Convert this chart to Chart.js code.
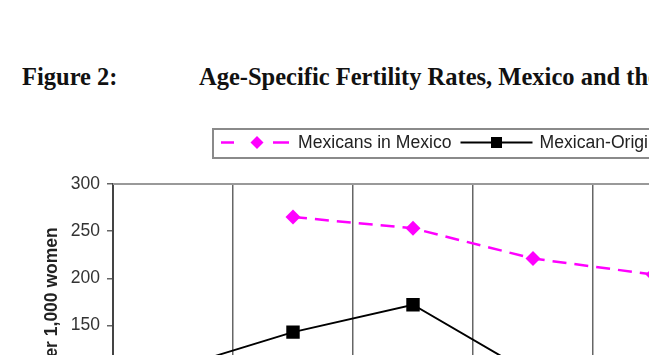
<!DOCTYPE html>
<html>
<head>
<meta charset="utf-8">
<script src="https://cdn.jsdelivr.net/npm/chart.js@4/dist/chart.umd.min.js"></script>
<style>
  html, body { margin:0; padding:0; background:#fff; width:649px; height:355px; overflow:hidden; }
  .t { position:absolute; font-family:"Liberation Serif","Times New Roman",serif; font-weight:bold; font-size:24.5px; line-height:24px; color:#111; white-space:nowrap; }
  #c { position:absolute; left:0; top:0; }
</style>
</head>
<body>
<div class="t" style="left:22px; top:65px;">Figure 2:</div>
<div class="t" style="left:199px; top:65px;">Age-Specific Fertility Rates, Mexico and the United States</div>
<canvas id="c" width="1000" height="527"></canvas>
<script>
const categories = ["15-19", "20-24", "25-29", "30-34", "35-39", "40-44", "45-49"];
const mexicoValues = [null, 265, 253, 221, 204, 140, 50];
const usOriginValues = [104, 143, 172, 98, 55, 18, 4];
const seriesNames = ["Mexicans in Mexico", "Mexican-Origin Women in the U.S."];
const yTitle = "Births per 1,000 women";
const yMin = 0, yMax = 300, yStep = 50;

const FONT = "'Liberation Sans', Arial, sans-serif";

const frameAndLegend = {
  id: 'frameAndLegend',
  afterDraw(chart) {
    const ctx = chart.ctx;
    const a = chart.chartArea;
    ctx.save();
    ctx.strokeStyle = '#999';
    ctx.lineWidth = 2;
    ctx.beginPath();
    ctx.moveTo(a.left, a.top);
    ctx.lineTo(a.right, a.top);
    ctx.stroke();
    const bx = 213, by = 129, bh = 29;
    ctx.font = "17.6px " + FONT;
    const w1 = ctx.measureText(seriesNames[0]).width;
    const w2 = ctx.measureText(seriesNames[1]).width;
    const cy = by + bh / 2 - 1;
    const l1x = bx + 8, l1len = 68;
    const t1x = l1x + l1len + 9;
    const l2x = t1x + w1 + 9, l2len = 72;
    const t2x = l2x + l2len + 7;
    const bw = t2x + w2 + 10 - bx;
    ctx.strokeStyle = '#8a8a8a';
    ctx.lineWidth = 2;
    ctx.strokeRect(bx, by, bw, bh);
    const ds = chart.data.datasets;
    ctx.strokeStyle = ds[0].borderColor;
    ctx.lineWidth = ds[0].borderWidth;
    ctx.beginPath(); ctx.moveTo(l1x, cy); ctx.lineTo(l1x + 13, cy); ctx.stroke();
    ctx.beginPath(); ctx.moveTo(l1x + l1len - 16, cy); ctx.lineTo(l1x + l1len, cy); ctx.stroke();
    ctx.fillStyle = ds[0].pointBackgroundColor;
    ctx.beginPath();
    ctx.moveTo(l1x + 36, cy - 6.5); ctx.lineTo(l1x + 42.5, cy); ctx.lineTo(l1x + 36, cy + 6.5); ctx.lineTo(l1x + 29.5, cy);
    ctx.closePath(); ctx.fill();
    ctx.fillStyle = '#222';
    ctx.textBaseline = 'middle';
    ctx.fillText(seriesNames[0], t1x, cy + 1);
    ctx.strokeStyle = ds[1].borderColor;
    ctx.lineWidth = ds[1].borderWidth;
    ctx.beginPath(); ctx.moveTo(l2x, cy); ctx.lineTo(l2x + l2len, cy); ctx.stroke();
    ctx.fillStyle = ds[1].pointBackgroundColor;
    ctx.fillRect(l2x + l2len / 2 - 5.5, cy - 5.5, 11, 11);
    ctx.fillStyle = '#222';
    ctx.fillText(seriesNames[1], t2x, cy + 1);
    ctx.restore();
  }
};

new Chart(document.getElementById('c'), {
  type: 'line',
  data: {
    labels: categories,
    datasets: [
      {
        label: seriesNames[0],
        data: mexicoValues,
        borderColor: '#ff00ff',
        backgroundColor: '#ff00ff',
        pointBackgroundColor: '#ff00ff',
        pointBorderColor: '#ff00ff',
        borderWidth: 2.5,
        borderDash: [14, 8],
        pointStyle: 'rectRot',
        pointRadius: 7.5,
        pointBorderWidth: 0,
        tension: 0,
        spanGaps: false
      },
      {
        label: seriesNames[1],
        data: usOriginValues,
        borderColor: '#000000',
        backgroundColor: '#000000',
        pointBackgroundColor: '#000000',
        pointBorderColor: '#000000',
        borderWidth: 2,
        pointStyle: 'rect',
        pointRadius: 9.5,
        pointBorderWidth: 0,
        tension: 0
      }
    ]
  },
  options: {
    responsive: false,
    devicePixelRatio: 1,
    animation: false,
    layout: { padding: { left: 42, top: 184, right: 47, bottom: 0 } },
    plugins: { legend: { display: false }, tooltip: { enabled: false }, title: { display: false } },
    scales: {
      x: {
        type: 'category',
        offset: true,
        grid: { offset: true, color: '#666', lineWidth: 1.5, drawTicks: true, tickLength: 6 },
        border: { display: false },
        ticks: { color: '#333', font: { family: FONT, size: 17.5 }, maxRotation: 0 },
        afterFit(s) { s.height = 60; }
      },
      y: {
        min: yMin, max: yMax,
        ticks: { stepSize: yStep, color: '#333', padding: 7, font: { family: FONT, size: 17.5 } },
        grid: { drawOnChartArea: false, drawTicks: true, tickLength: 6, color: '#666', lineWidth: 1.5 },
        border: { display: true, color: '#444', width: 2 },
        title: { display: true, text: yTitle, color: '#222', padding: 0, font: { family: FONT, size: 17.5, weight: 'bold' } },
        afterFit(s) { s.width = 71; }
      }
    }
  },
  plugins: [frameAndLegend]
});
</script>
</body>
</html>
